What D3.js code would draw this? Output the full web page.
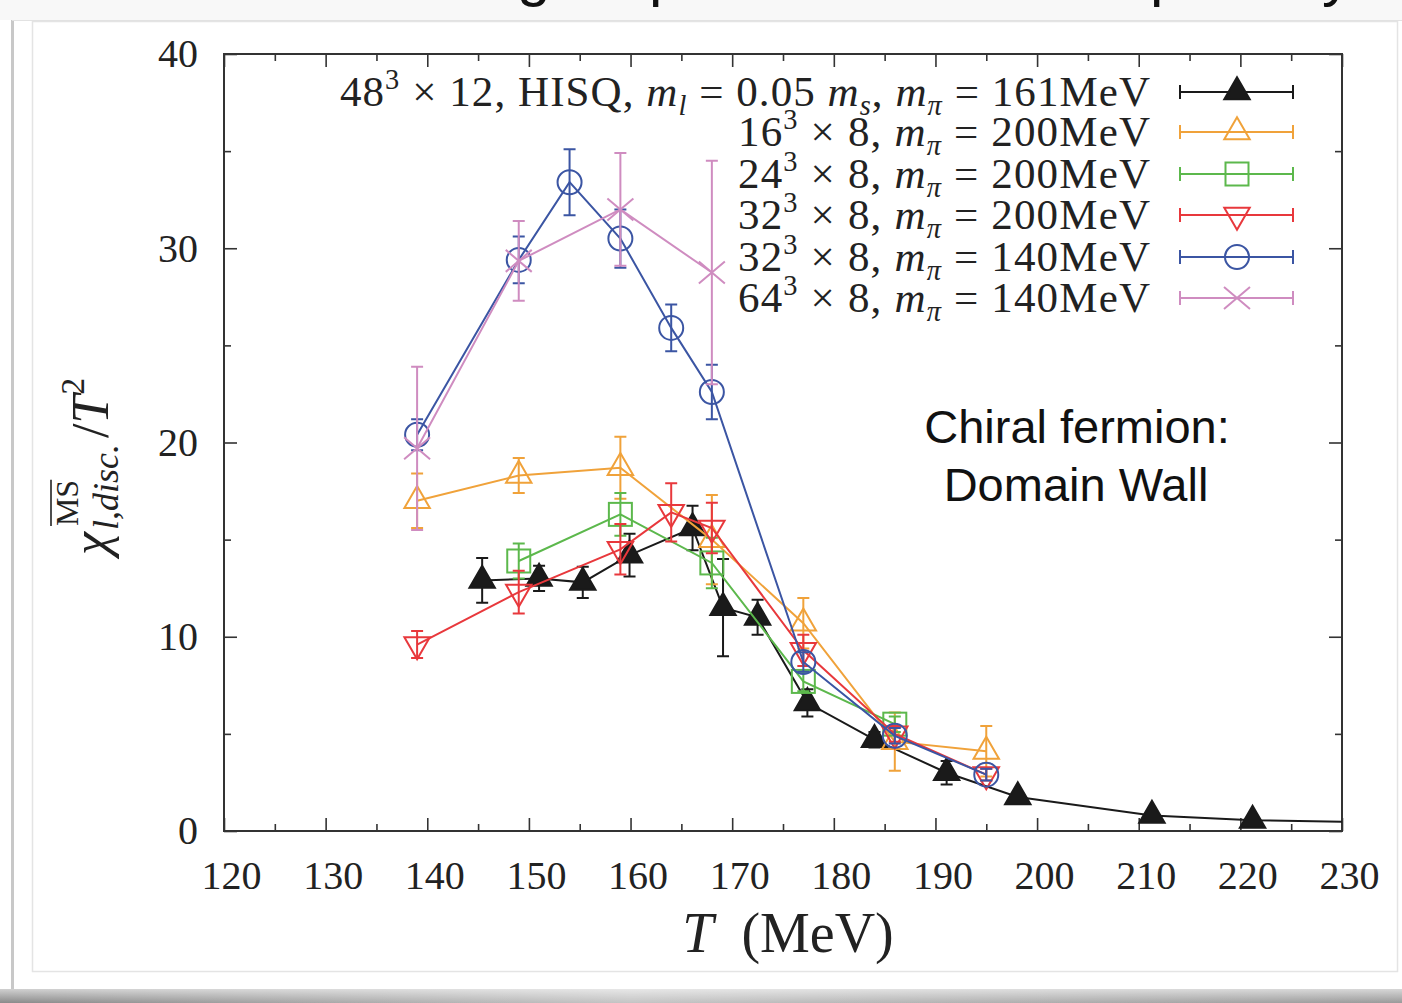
<!DOCTYPE html>
<html>
<head>
<meta charset="utf-8">
<script src="https://cdn.jsdelivr.net/npm/d3@7/dist/d3.min.js"></script>
<style>
  body { margin: 0; background: #fff; }
  svg { display: block; }
  text { white-space: pre; }
</style>
</head>
<body>
<div id="chart"></div>
<script>
// ---- data ----
const xTicks = [120, 130, 140, 150, 160, 170, 180, 190, 200, 210, 220, 230];
const yTicks = [0, 10, 20, 30, 40];

// 48^3 x 12 HISQ (filled triangles)
const tHisq   = [145.4, 151.0, 155.3, 159.9, 166.1, 169.1, 172.5, 177.4, 184.0, 191.1, 198.1, 211.3, 221.2, 240.0];
const vHisq   = [12.9, 13.0, 12.8, 14.2, 15.6, 11.5, 11.0, 6.6, 4.7, 3.0, 1.75, 0.8, 0.55, 0.4];
const eHisq   = [1.15, 0.65, 0.8, 1.1, 1.15, 2.5, 0.9, 0.7, 0.4, 0.6, 0.2, 0.15, 0.1, 0.1];

// 16^3 x 8, 200 MeV (open triangles)
const t16     = [139, 149, 159, 168, 177, 186, 195];
const v16     = [17.0, 18.3, 18.7, 15.0, 10.7, 4.6, 4.1];
const e16     = [1.4, 0.9, 1.6, 2.3, 1.3, 1.5, 1.3];

// 24^3 x 8, 200 MeV (squares)
const t24     = [149, 159, 168, 177, 186];
const v24     = [13.9, 16.3, 13.8, 7.7, 5.5];
const e24     = [0.9, 1.1, 1.3, 0.5, 0.4];

// 32^3 x 8, 200 MeV (down triangles)
const t32a    = [139, 149, 159, 164, 168, 177, 186, 195];
const v32a    = [9.6, 12.3, 14.5, 16.4, 15.6, 9.3, 5.0, 2.9];
const e32a    = [0.7, 1.1, 1.3, 1.5, 1.3, 0.8, 0.4, 0.3];

// 32^3 x 8, 140 MeV (circles)
const t32b    = [139, 149, 154, 159, 164, 168, 177, 186, 195];
const v32b    = [20.4, 29.4, 33.4, 30.5, 25.9, 22.6, 8.7, 4.9, 2.9];
const e32b    = [0.8, 1.2, 1.7, 1.5, 1.2, 1.4, 0.5, 0.4, 0.3];

// 64^3 x 8, 140 MeV (crosses)
const t64     = [139, 149, 159, 168];
const v64     = [19.7, 29.35, 32.0, 28.75];
const e64     = [4.2, 2.05, 2.9, 5.75];

const legendLabels = [
  ["48", ["3", "sup"], " × 12, HISQ, ", ["m", "i"], ["l", "isub"], " = 0.05 ", ["m", "i"], ["s", "isub"], ", ", ["m", "i"], ["π", "isub"], " = 161MeV"],
  ["16", ["3", "sup"], " × 8, ", ["m", "i"], ["π", "isub"], " = 200MeV"],
  ["24", ["3", "sup"], " × 8, ", ["m", "i"], ["π", "isub"], " = 200MeV"],
  ["32", ["3", "sup"], " × 8, ", ["m", "i"], ["π", "isub"], " = 200MeV"],
  ["32", ["3", "sup"], " × 8, ", ["m", "i"], ["π", "isub"], " = 140MeV"],
  ["64", ["3", "sup"], " × 8, ", ["m", "i"], ["π", "isub"], " = 140MeV"]
];

const series = [
  { t: tHisq, v: vHisq, e: eHisq, color: "#1a1a1a", marker: "triFilled" },
  { t: t16,   v: v16,   e: e16,   color: "#f0a23a", marker: "tri" },
  { t: t24,   v: v24,   e: e24,   color: "#5cb84c", marker: "square" },
  { t: t32a,  v: v32a,  e: e32a,  color: "#e8383c", marker: "triDown" },
  { t: t32b,  v: v32b,  e: e32b,  color: "#3b55a3", marker: "circle" },
  { t: t64,   v: v64,   e: e64,   color: "#cf8cc0", marker: "cross" }
];

// ---- layout ----
const W = 1402, H = 1003;
const serif = "'Liberation Serif', 'DejaVu Serif', serif";
const sans = "'Liberation Sans', Arial, sans-serif";

const svg = d3.select("#chart").append("svg")
  .attr("width", W).attr("height", H);

// slide card background
const defs = svg.append("defs");
const shade = defs.append("linearGradient").attr("id", "shade").attr("x1", 0).attr("x2", 1);
shade.append("stop").attr("offset", "0%").attr("stop-color", "#8a8a8a");
shade.append("stop").attr("offset", "45%").attr("stop-color", "#c4c4c4");
shade.append("stop").attr("offset", "100%").attr("stop-color", "#9a9a9a");
const fade = defs.append("linearGradient").attr("id", "fade").attr("x1", 0).attr("x2", 0).attr("y1", 0).attr("y2", 1);
fade.append("stop").attr("offset", "0%").attr("stop-color", "#fff").attr("stop-opacity", 0.6);
fade.append("stop").attr("offset", "100%").attr("stop-color", "#fff").attr("stop-opacity", 0);

svg.append("rect").attr("x", 0).attr("y", 0).attr("width", W).attr("height", 20).attr("fill", "#f8f8f8");
svg.append("rect").attr("x", 0).attr("y", 989).attr("width", W).attr("height", 14).attr("fill", "url(#shade)");
svg.append("rect").attr("x", 0).attr("y", 989).attr("width", W).attr("height", 14).attr("fill", "url(#fade)");
svg.append("rect").attr("x", 11).attr("y", 20).attr("width", 3).attr("height", 969).attr("fill", "#c8c8c8");
svg.append("line").attr("x1", 12).attr("x2", W).attr("y1", 20.5).attr("y2", 20.5).attr("stroke", "#e2e2e2");
svg.append("rect").attr("x", 32.5).attr("y", 21.5).attr("width", 1365).attr("height", 950)
  .attr("fill", "none").attr("stroke", "#e4e4e4").attr("stroke-width", 1.5);

// slide title, cut off by the top edge (only descenders show)
[["g", 517], ["p", 649], ["p", 1150], ["y", 1322]].forEach(([ch, x]) => {
  svg.append("text").attr("x", x).attr("y", -5).attr("font-family", sans)
    .attr("font-size", 60).attr("fill", "#111").text(ch);
});

const x = d3.scaleLinear().domain([120, 230]).range([224, 1342]);
const y = d3.scaleLinear().domain([0, 40]).range([831, 54]);

defs.append("clipPath").attr("id", "plotclip").append("rect")
  .attr("x", x(120)).attr("y", y(40)).attr("width", x(230) - x(120)).attr("height", y(0) - y(40));

// axes: ticks inside, mirrored on all sides
function styleAxis(g) {
  g.select(".domain").remove();
  g.selectAll(".tick line").attr("stroke", "#333").attr("stroke-width", 1.6);
  g.selectAll("text").attr("font-family", serif).attr("font-size", 40).attr("fill", "#222");
}
const minorX = d3.range(125, 230, 10);
const minorY = d3.range(5, 40, 10);

svg.append("g").attr("transform", `translate(0,${y(0)})`)
  .call(d3.axisBottom(x).tickValues(xTicks).tickFormat(d3.format("d")).tickSize(-13).tickSizeOuter(0).tickPadding(30))
  .call(styleAxis)
  .call(g => g.selectAll("text").attr("dx", 7));
svg.append("g").attr("transform", `translate(0,${y(0)})`)
  .call(d3.axisBottom(x).tickValues(minorX).tickFormat("").tickSize(-7).tickSizeOuter(0)).call(styleAxis);
svg.append("g").attr("transform", `translate(0,${y(40)})`)
  .call(d3.axisTop(x).tickValues(xTicks).tickFormat("").tickSize(-13).tickSizeOuter(0)).call(styleAxis);
svg.append("g").attr("transform", `translate(0,${y(40)})`)
  .call(d3.axisTop(x).tickValues(minorX).tickFormat("").tickSize(-7).tickSizeOuter(0)).call(styleAxis);

svg.append("g").attr("transform", `translate(${x(120)},0)`)
  .call(d3.axisLeft(y).tickValues(yTicks).tickFormat(d3.format("d")).tickSize(-13).tickSizeOuter(0).tickPadding(26))
  .call(styleAxis);
svg.append("g").attr("transform", `translate(${x(120)},0)`)
  .call(d3.axisLeft(y).tickValues(minorY).tickFormat("").tickSize(-7).tickSizeOuter(0)).call(styleAxis);
svg.append("g").attr("transform", `translate(${x(230)},0)`)
  .call(d3.axisRight(y).tickValues(yTicks).tickFormat("").tickSize(-13).tickSizeOuter(0)).call(styleAxis);
svg.append("g").attr("transform", `translate(${x(230)},0)`)
  .call(d3.axisRight(y).tickValues(minorY).tickFormat("").tickSize(-7).tickSizeOuter(0)).call(styleAxis);

svg.append("rect").attr("x", x(120)).attr("y", y(40))
  .attr("width", x(230) - x(120)).attr("height", y(0) - y(40))
  .attr("fill", "none").attr("stroke", "#333").attr("stroke-width", 2);

// markers
function drawMarker(g, kind, cx, cy, color) {
  const m = g.append("g").attr("transform", `translate(${cx},${cy})`);
  const sw = 2;
  if (kind === "triFilled" || kind === "tri" || kind === "triDown") {
    m.append("path")
      .attr("d", d3.symbol(d3.symbolTriangle, 280)())
      .attr("transform", kind === "triDown" ? "rotate(180)" : null)
      .attr("fill", kind === "triFilled" ? color : "none")
      .attr("stroke", color).attr("stroke-width", sw);
  } else if (kind === "square") {
    m.append("rect").attr("x", -11.5).attr("y", -11.5).attr("width", 23).attr("height", 23)
      .attr("fill", "none").attr("stroke", color).attr("stroke-width", sw);
  } else if (kind === "circle") {
    m.append("circle").attr("r", 12).attr("fill", "none").attr("stroke", color).attr("stroke-width", sw);
  } else if (kind === "cross") {
    m.append("path").attr("d", "M-13,-11L13,11M-13,11L13,-11")
      .attr("stroke", color).attr("stroke-width", sw).attr("fill", "none");
  }
}

const plot = svg.append("g").attr("clip-path", "url(#plotclip)");
const line = d3.line().x(d => x(d.t)).y(d => y(d.v));

series.forEach(s => {
  const pts = s.t.map((t, i) => ({ t: t, v: s.v[i], e: s.e[i] }));
  const g = plot.append("g");
  g.append("path").datum(pts).attr("d", line)
    .attr("fill", "none").attr("stroke", s.color).attr("stroke-width", 2);
  pts.forEach(p => {
    const px = x(p.t), top = y(p.v + p.e), bot = y(p.v - p.e);
    g.append("path")
      .attr("d", `M${px},${top}V${bot}M${px - 6},${top}H${px + 6}M${px - 6},${bot}H${px + 6}`)
      .attr("stroke", s.color).attr("stroke-width", 2).attr("fill", "none");
  });
  pts.forEach(p => drawMarker(g, s.marker, x(p.t), y(p.v), s.color));
});

// math-ish text helper
function mathText(parent, parts, size) {
  const t = parent.append("text").attr("font-family", serif).attr("font-size", size).attr("fill", "#222");
  let shift = 0;
  parts.forEach(p => {
    const s = typeof p === "string" ? p : p[0];
    const kind = typeof p === "string" ? "" : p[1];
    let target = 0;
    const ts = t.append("tspan").text(s);
    if (kind.includes("sup")) { target = -0.4 * size; ts.attr("font-size", 0.66 * size); }
    if (kind.includes("sub")) { target = 0.2 * size; ts.attr("font-size", 0.66 * size); }
    if (kind.includes("i")) ts.attr("font-style", "italic");
    if (target - shift !== 0) ts.attr("dy", target - shift);
    shift = target;
  });
  return t;
}

// legend
const legendRowsY = [92, 132, 174, 215, 257, 298];
const legendWidths = [810, 412, 412, 412, 412, 412];
series.forEach((s, i) => {
  const cy = legendRowsY[i];
  mathText(svg, legendLabels[i], 43)
    .attr("x", 1150).attr("y", cy + 14).attr("text-anchor", "end")
    .attr("textLength", legendWidths[i]).attr("lengthAdjust", "spacing");
  const g = svg.append("g");
  g.append("path")
    .attr("d", `M1180,${cy}H1293M1180,${cy - 7}V${cy + 7}M1293,${cy - 7}V${cy + 7}`)
    .attr("stroke", s.color).attr("stroke-width", 2).attr("fill", "none");
  drawMarker(g, s.marker, 1237, cy, s.color);
});

// annotation
svg.append("text").attr("x", 1077).attr("y", 443).attr("text-anchor", "middle")
  .attr("font-family", sans).attr("font-size", 47).attr("fill", "#111").text("Chiral fermion:");
svg.append("text").attr("x", 1076).attr("y", 501).attr("text-anchor", "middle")
  .attr("font-family", sans).attr("font-size", 47).attr("fill", "#111").text("Domain Wall");

// x-axis title
const xt = svg.append("text").attr("x", 788).attr("y", 952).attr("text-anchor", "middle")
  .attr("font-family", serif).attr("font-size", 56).attr("fill", "#222");
xt.append("tspan").attr("font-style", "italic").text("T");
xt.append("tspan").text("  (MeV)");

// y-axis title, rotated
const yl = svg.append("g").attr("transform", "translate(108,445) rotate(-90)");
const chi = yl.append("text").attr("x", -110).attr("y", 0).attr("font-family", serif)
  .attr("font-size", 52).attr("font-style", "italic").attr("fill", "#222").text("χ");
const chiW = chi.node().getComputedTextLength();
const sx = -110 + chiW + 2;
const sup = yl.append("text").attr("x", sx + 4).attr("y", -30).attr("font-family", serif)
  .attr("font-size", 32).attr("fill", "#222").text("MS");
const supW = sup.node().getComputedTextLength();
yl.append("line").attr("x1", sx + 4).attr("x2", sx + 4 + supW).attr("y1", -57).attr("y2", -57)
  .attr("stroke", "#222").attr("stroke-width", 1.6);
const sub = yl.append("text").attr("x", sx).attr("y", 10).attr("font-family", serif)
  .attr("font-size", 36).attr("font-style", "italic").attr("fill", "#222").text("l,disc.");
const subW = sub.node().getComputedTextLength();
const rest = yl.append("text").attr("x", sx + Math.max(subW, supW) + 6).attr("y", 0)
  .attr("font-family", serif).attr("font-size", 52).attr("fill", "#222");
rest.append("tspan").text("/");
rest.append("tspan").attr("font-style", "italic").text("T");
rest.append("tspan").attr("font-size", 34).attr("dy", -24).text("2");
</script>
</body>
</html>
